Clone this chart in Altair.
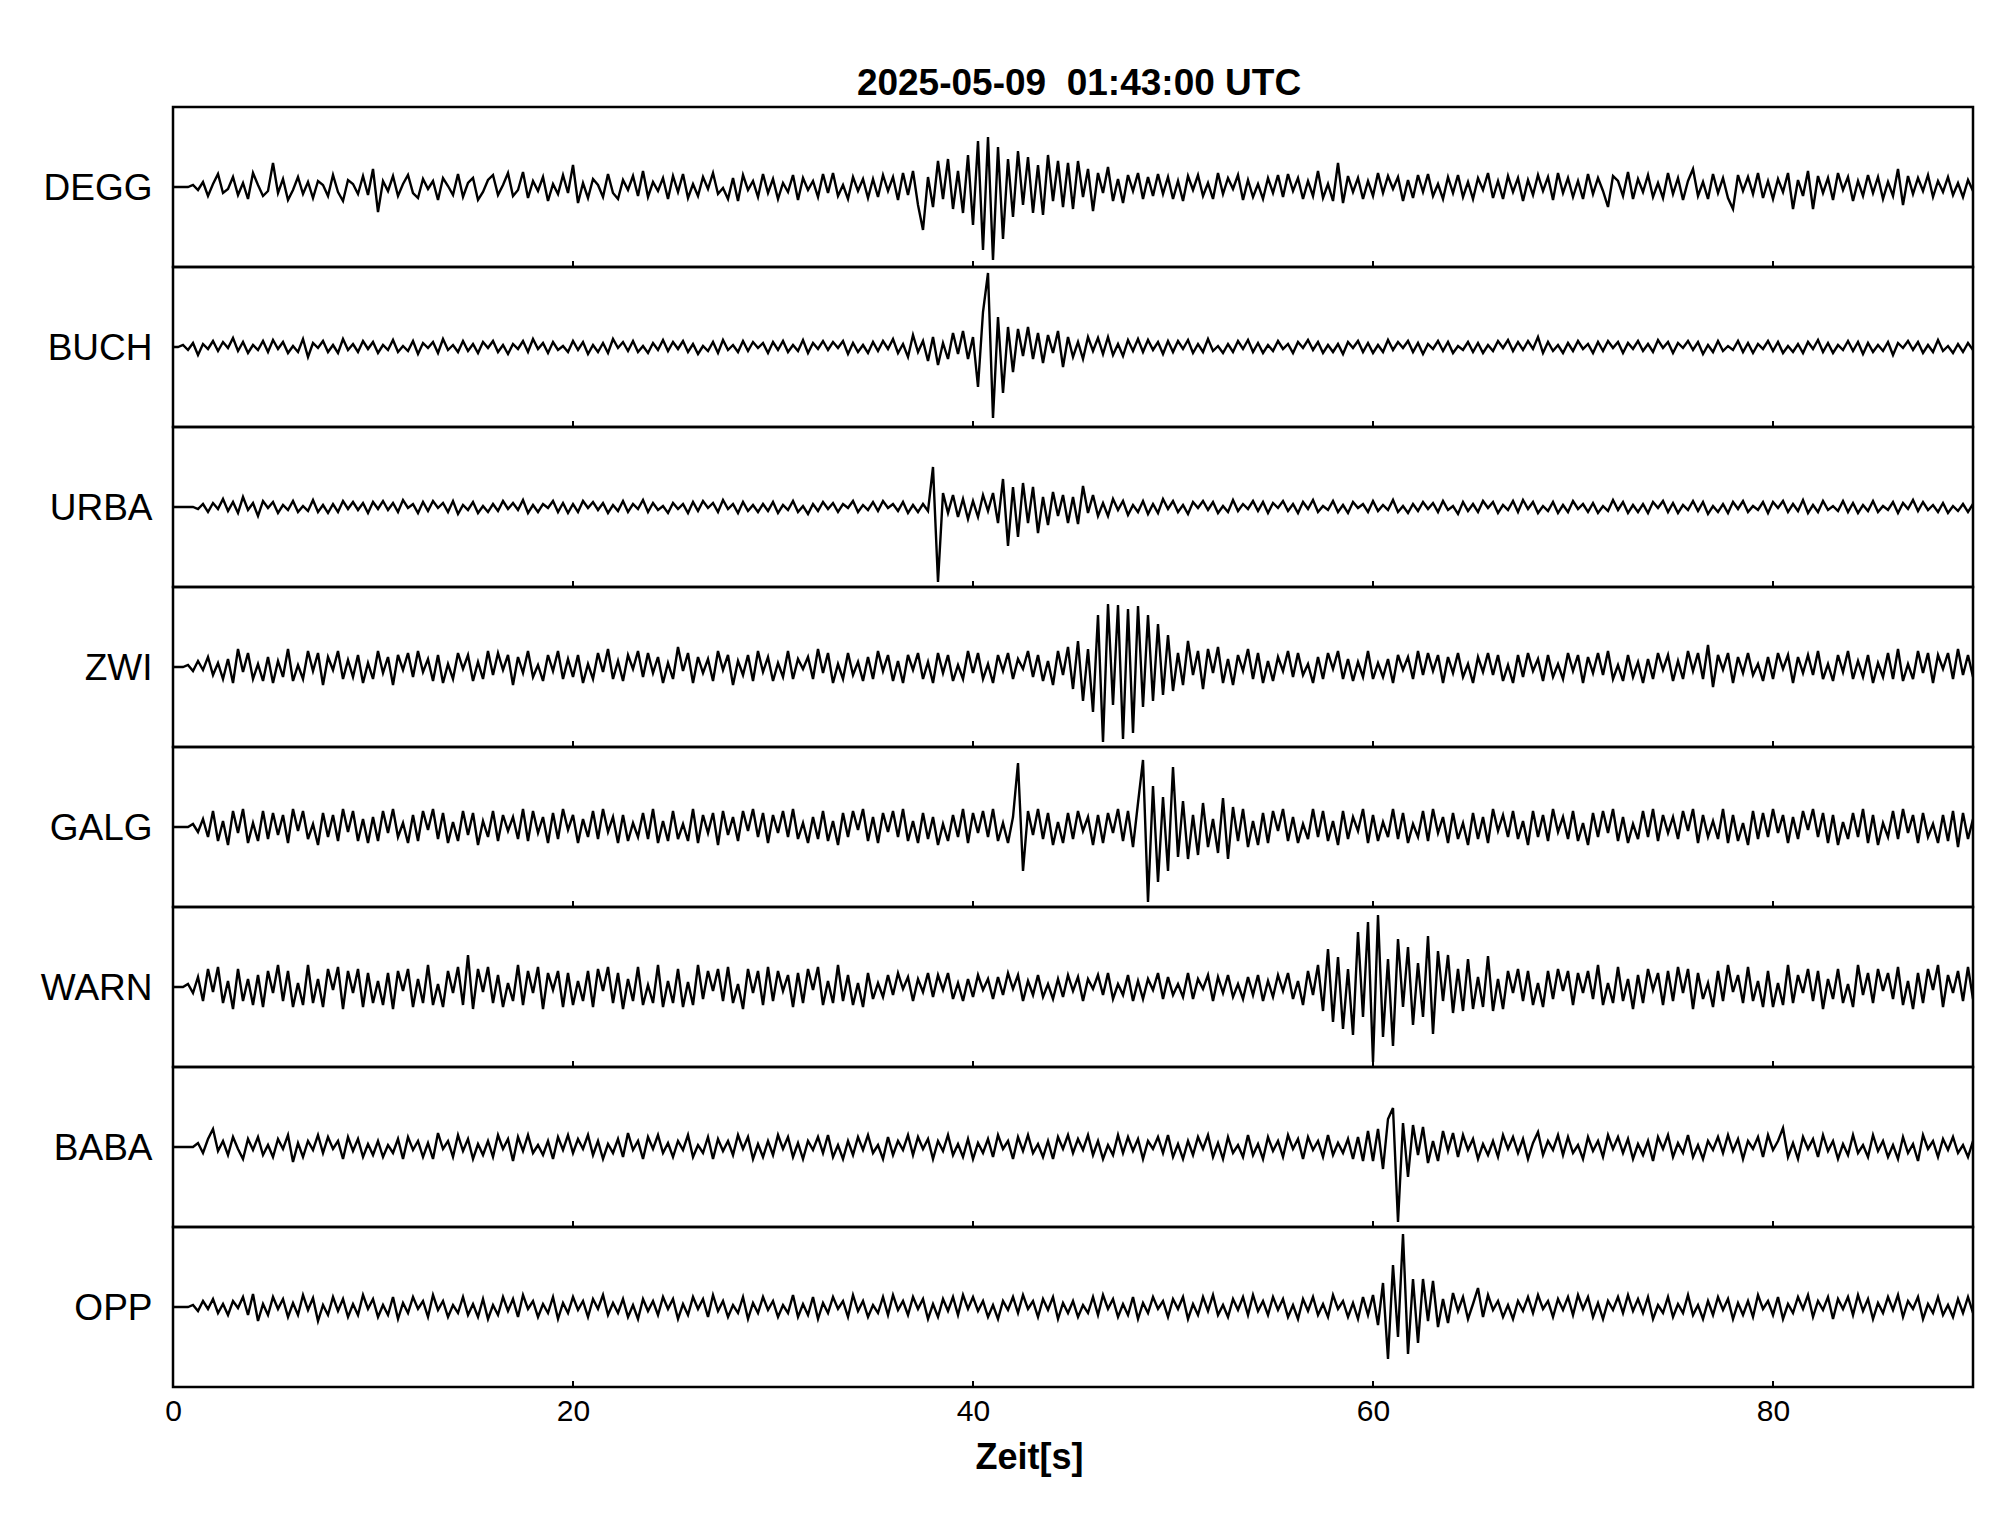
import altair as alt
import pandas as pd

TITLE = "2025-05-09\u00a0 01:43:00 UTC"
X_TITLE = "Zeit[s]"
STATIONS = ["DEGG", "BUCH", "URBA", "ZWI", "GALG", "WARN", "BABA", "OPP"]
X_LABELS = [0, 20, 40, 60, 80]
INNER_TICKS = [20, 40, 60, 80]
DT = 0.25  # seconds between samples

DEGG = [
    0, 0, 0, 0, 2, -3, 5, -9, 3, 13, -6, -2, 10, -8, 4, -12, 14, 2, -9, -4,
    24, -6, 8, -13, -3, 10, -7, 5, -11, 6, 2, -9, 12, -5, -14, 7, 3, -7, 11, -8,
    18, -25, 6, -4, 11, -9, 3, 12, -6, -11, 8, -2, 6, -13, 9, 1, -8, 13, -10, 4,
    9, -13, -5, 7, 12, -8, 2, 14, -9, -3, 15, -11, 6, -4, 10, -14, 3, -7, 12, -6,
    22, -16, 4, -11, 8, 2, -10, 13, -6, -12, 7, -3, 11, -9, 16, -10, 5, -4, 9, -12,
    11, -5, 13, -11, 3, -9, 10, -2, 14, -7, -1, -12, 9, -14, 12, -3, 6, -10, 13, -6,
    8, -12, 4, -5, 12, -13, 9, -3, 6, -10, 13, -6, 14, -9, 2, -12, 10, -4, 8, -11,
    8, -10, 12, -4, 10, -13, 14, -8, 16, -18, -43, 10, -20, 26, -12, 28, -22, 16, -26, 32,
    -38, 46, -63, 50, -73, 40, -52, 28, -30, 36, -18, 30, -26, 22, -28, 32, -14, 26, -20, 24,
    -22, 26, -10, 18, -24, 14, -6, 20, -14, 8, -16, 12, -4, 14, -12, 10, -9, 13, -7, 10,
    -12, 6, -14, 11, -3, 12, -9, 4, -12, 14, -7, 9, -2, 12, -13, 7, -10, 3, -12, 9,
    -6, 12, -10, 13, -4, 9, -12, 6, -9, 16, -11, 3, -14, 24, -16, 11, -5, 9, -12, 6,
    -9, 14, -6, 11, -2, 10, -14, 7, -11, 12, -5, 13, -9, 3, -12, 10, -6, 12, -10, 5,
    -12, 9, -3, 14, -11, 6, -12, 11, -5, 9, -14, 7, -8, 12, -4, 10, -13, 14, -6, 9,
    -10, 6, -12, 13, -7, 9, -4, -20, 11, 6, -9, 15, -12, 8, -5, 12, -10, 4, -11, 14,
    -7, 9, -13, 6, 18, -9, 5, -12, 13, -6, 9, -11, -22, 12, -4, 10, -7, 14, -11, 6,
    -12, 8, -5, 14, -22, 7, -9, 16, -22, 11, -6, 9, -13, 14, -3, 10, -14, 6, -9, 12,
    -6, 10, -12, 5, -9, 18, -18, 11, -7, 9, -4, 12, -10, 6, -5, 10, -8, 4, -10, 7,
    -4,
]

BUCH = [
    0, 0, 2, -3, 4, -8, 3, -2, 6, -4, 5, -1, 9, -4, 5, -6, 2, -3, 6, -5,
    7, -2, 5, -6, 1, -5, 8, -10, 4, -1, 6, -5, 2, -6, 8, -3, 3, -5, 6, -2,
    5, -6, 2, -3, 7, -5, 1, -4, 6, -7, 4, -1, 5, -6, 8, -3, 2, -5, 6, -4,
    3, -6, 5, -1, 6, -5, 2, -7, 3, -2, 6, -5, 8, -2, 4, -6, 5, -3, 1, -5,
    6, -3, 5, -7, 2, -5, 4, -6, 8, -1, 5, -4, 6, -5, 1, -6, 4, -3, 7, -4,
    5, -2, 6, -5, 3, -7, 1, -4, 5, -6, 7, -3, 2, -5, 6, -4, 5, -1, 4, -6,
    5, -3, 6, -5, 2, -4, 7, -6, 4, -2, 6, -3, 5, -1, 6, -7, 4, -5, 2, -6,
    5, -4, 6, -2, 8, -6, 3, -10, 12, -5, 6, -14, 10, -18, 4, -12, 14, -7, 16, -12,
    10, -40, 35, 74, -71, 30, -46, 20, -25, 18, -9, 20, -12, 14, -16, 12, -6, 16, -20, 10,
    -10, 5, -12, 10, -4, 9, -7, 10, -8, 3, -9, 7, -4, 8, -5, 7, -3, 5, -7, 6,
    -5, 6, -2, 7, -6, 3, -5, 8, -4, 1, -6, 3, -5, 6, -2, 7, -5, 4, -6, 2,
    -4, 6, -2, 3, -6, 5, -1, 7, -3, 5, -6, 2, -5, 3, -7, 5, -1, 6, -5, 4,
    -6, 2, -5, 7, -3, 5, -1, 6, -5, 4, -7, 3, -2, 6, -4, 5, -6, 1, -3, 5,
    -5, 4, -6, 2, -4, 6, -1, 7, -4, 5, -3, 6, -2, 10, -6, 5, -4, 2, -6, 4,
    -4, 6, -2, 3, -6, 5, -4, 6, -1, 5, -6, 4, -2, 6, -4, 3, -5, 7, -1, 5,
    -6, 4, -1, 6, -3, 5, -7, 2, -5, 6, -4, 1, -3, 6, -5, 4, -6, 3, -2, 6,
    -4, 5, -6, 1, -5, 3, -6, 5, -2, 7, -5, 4, -6, 2, -3, 6, -4, 5, -7, 4,
    -5, 2, -4, 5, -8, 4, -1, 6, -3, 5, -6, 2, -5, 7, -4, 1, -6, 3, -5, 4,
    -3,
]

URBA = [
    0, 0, 0, 0, 0, -2, 3, -5, 4, -2, 8, -4, 5, -6, 10, -3, 4, -9, 6, -1,
    5, -6, 2, -3, 6, -5, 1, -4, 7, -5, 2, -6, 3, -5, 6, -2, 5, -3, 4, -6,
    5, -2, 6, -3, 4, -5, 7, -1, 3, -6, 5, -4, 6, -1, 4, -5, 6, -7, 2, -3,
    5, -6, 1, -5, 3, -4, 6, -2, 4, -3, 7, -6, 2, -5, 3, -1, 6, -5, 4, -6,
    3, -5, 6, -1, 5, -3, 4, -6, 2, -4, 6, -5, 3, -2, 7, -5, 4, -3, 1, -6,
    4, -2, 3, -6, 5, -4, 6, -1, 4, -5, 7, -2, 3, -6, 5, -4, 2, -5, 3, -4,
    5, -6, 2, -3, 6, -5, 1, -7, 3, -4, 5, -2, 4, -5, 3, -1, 6, -5, 2, -3,
    5, -4, 6, -1, 3, -4, 5, -6, 2, -5, 3, -4, 40, -75, 14, -6, 12, -10, 8, -12,
    6, -10, 12, -4, 14, -16, 28, -39, 20, -30, 24, -16, 20, -26, 10, -18, 15, -9, 12, -16,
    10, -17, 21, -6, 12, -9, 4, -9, 8, -3, 6, -8, 2, -5, 6, -7, 3, -6, 8, -2,
    6, -5, 2, -7, 5, -1, 6, -3, 5, -6, 1, -5, 7, -4, 3, -2, 6, -4, 5, -6,
    4, -1, 6, -4, 3, -6, 5, -2, 7, -5, 1, -3, 6, -5, 2, -6, 5, -1, 3, -5,
    6, -4, 2, -3, 7, -5, 1, -6, 3, -4, 5, -2, 4, -5, 6, -3, 1, -7, 5, -4,
    3, -5, 6, -1, 5, -6, 2, -3, 6, -5, 7, -2, 5, -6, 1, -4, 5, -6, 2, -5,
    6, -2, 3, -5, 4, -6, 1, -4, 7, -3, 5, -6, 2, -5, 3, -6, 5, -1, 6, -5,
    4, -6, 2, -3, 6, -4, 5, -7, 1, -5, 3, -6, 5, -2, 6, -5, 1, -3, 5, -6,
    5, -1, 6, -5, 3, -4, 7, -6, 2, -5, 6, -3, 1, -4, 6, -5, 4, -6, 2, -4,
    6, -5, 1, -3, 5, -6, 4, -2, 7, -4, 5, -3, 2, -5, 4, -6, 1, -4, 3, -5,
    3,
]

ZWI = [
    0, 0, 0, 2, -4, 6, -3, 10, -8, 4, -12, 8, -16, 18, -5, 14, -12, 3, -14, 10,
    -16, 6, -10, 18, -14, 2, -12, 16, -4, 14, -18, 10, -3, 16, -12, 7, -10, 12, -16, 4,
    -12, 16, -6, 10, -18, 12, -3, 14, -10, 16, -5, 8, -14, 12, -16, 3, -12, 14, -2, 12,
    -14, 5, -12, 16, -8, 14, -3, 12, -18, 10, -6, 16, -10, 2, -14, 12, -4, 16, -12, 8,
    -10, 12, -16, 3, -12, 14, -5, 18, -12, 6, -14, 12, -2, 16, -10, 14, -6, 10, -16, 4,
    -12, 20, -4, 14, -16, 10, -6, 8, -14, 16, -3, 12, -18, 6, -8, 12, -14, 16, -5, 10,
    -14, 4, -10, 16, -12, 8, -2, 10, -12, 18, -6, 14, -16, 3, -12, 14, -8, 5, -14, 10,
    -12, 16, -4, 12, -14, 6, -16, 12, -3, 14, -12, 5, -16, 14, -6, 12, -14, 2, -12, 16,
    -6, 14, -12, 3, -16, 12, -4, 14, -12, 8, -2, 16, -10, 12, -14, 6, -18, 16, -8, 20,
    -22, 26, -34, 18, -45, 52, -75, 63, -38, 62, -72, 58, -66, 61, -40, 52, -34, 43, -28, 32,
    -24, 14, -18, 26, -8, 16, -22, 18, -6, 20, -16, 8, -18, 12, -4, 18, -12, 14, -16, 6,
    -14, 10, -4, 16, -10, 14, -8, 3, -16, 10, -12, 14, -2, 16, -12, 8, -14, 5, -10, 16,
    -12, 4, -10, 8, -16, 12, -3, 10, -12, 16, -8, 14, -4, 12, -16, 10, -6, 14, -10, 3,
    -16, 10, -5, 14, -8, 12, -14, 2, -16, 12, -10, 14, -4, 8, -14, 12, -10, 3, -12, 14,
    -4, 12, -16, 10, -6, 14, -8, 16, -12, 2, -14, 12, -10, 5, -16, 8, -12, 14, -3, 12,
    -14, 6, -12, 16, -4, 14, -12, 22, -20, 12, -3, 14, -16, 10, -6, 14, -8, 3, -14, 10,
    -12, 14, -2, 12, -16, 10, -6, 12, -8, 16, -12, 3, -14, 12, -5, 16, -12, 6, -10, 12,
    -16, 4, -10, 14, -12, 18, -14, 3, -12, 16, -6, 14, -16, 12, -2, 14, -12, 18, -8, 12,
    -10,
]

GALG = [
    0, 0, 0, 0, 3, -5, 8, -10, 16, -14, 6, -18, 16, -6, 18, -16, 4, -14, 16, -12,
    14, -8, 12, -16, 18, -4, 16, -12, 3, -18, 14, -10, 12, -14, 18, -5, 16, -14, 8, -16,
    10, -14, 16, -6, 18, -10, 4, -16, 12, -14, 16, -3, 18, -12, 14, -16, 5, -14, 16, -8,
    14, -18, 6, -10, 16, -14, 12, -4, 10, -12, 18, -14, 16, -6, 10, -16, 14, -12, 18, -3,
    12, -16, 8, -10, 16, -12, 18, -5, 10, -16, 12, -14, 4, -10, 14, -12, 18, -16, 6, -14,
    16, -12, 3, -14, 18, -16, 12, -6, 14, -18, 16, -8, 10, -14, 16, -4, 18, -10, 14, -16,
    12, -6, 16, -10, 18, -12, 4, -16, 10, -12, 16, -14, 6, -18, 14, -10, 16, -3, 18, -14,
    10, -16, 14, -5, 16, -10, 18, -14, 6, -16, 14, -12, 10, -18, 3, -14, 12, -10, 18, -16,
    14, -6, 16, -10, 18, -14, 4, -16, 10, 64, -44, 16, -8, 18, -12, 14, -18, 5, -16, 14,
    -12, 16, -4, 10, -18, 12, -16, 14, -6, 18, -14, 16, -20, 24, 67, -75, 41, -55, 30, -44,
    60, -30, 26, -32, 12, -28, 24, -20, 8, -26, 29, -32, 20, -14, 18, -20, 6, -18, 14, -16,
    16, -4, 18, -14, 10, -16, 3, -12, 18, -10, 16, -14, 6, -18, 16, -12, 10, -4, 18, -16,
    12, -14, 5, -10, 18, -12, 14, -16, 3, -10, 16, -14, 18, -6, 10, -16, 14, -12, 4, -18,
    14, -12, 10, -16, 18, -4, 12, -10, 16, -12, 6, -18, 16, -10, 12, -14, 18, -5, 10, -12,
    16, -14, 4, -18, 14, -10, 16, -6, 18, -14, 10, -16, 3, -12, 16, -10, 18, -14, 12, -6,
    10, -12, 16, -4, 18, -16, 12, -10, 6, -12, 18, -16, 12, -14, 4, -18, 16, -12, 14, -10,
    18, -6, 12, -16, 10, -12, 16, -3, 18, -10, 14, -16, 12, -18, 5, -12, 14, -10, 18, -16,
    12, -18, 4, -10, 16, -12, 18, -6, 12, -16, 14, -10, 3, -16, 12, -14, 16, -20, 14, -12,
    8,
]

WARN = [
    0, 0, 0, 3, -6, 10, -14, 18, -5, 20, -16, 6, -22, 18, -14, 8, -18, 12, -20, 16,
    -6, 22, -14, 16, -20, 4, -18, 22, -16, 8, -20, 18, -3, 20, -22, 16, -6, 18, -20, 14,
    -16, 6, -18, 14, -22, 16, -4, 18, -20, 8, -16, 22, -18, 3, -20, 16, -6, 20, -18, 32,
    -22, 18, -5, 20, -16, 12, -20, 4, -14, 22, -18, 16, -6, 20, -22, 14, -3, 16, -20, 14,
    -18, 6, -14, 16, -20, 18, -4, 20, -16, 14, -22, 8, -14, 20, -18, 2, -16, 22, -20, 6,
    -16, 18, -20, 5, -18, 22, -12, 16, -4, 18, -14, 20, -16, 3, -22, 18, -6, 16, -18, 20,
    -14, 16, -4, 12, -20, 14, -16, 18, -3, 20, -18, 6, -16, 22, -14, 12, -18, 4, -20, 14,
    -12, 4, -10, 12, -8, 14, -2, 10, -14, 8, -5, 14, -10, 12, -3, 14, -12, 4, -14, 8,
    -10, 12, -3, 8, -12, 10, -8, 14, -2, 12, -14, 6, -8, 12, -10, 3, -12, 8, -10, 12,
    -4, 10, -14, 8, -2, 12, -8, 14, -12, 3, -8, 12, -14, 6, -12, 8, -3, 14, -12, 10,
    -8, 3, -10, 14, -12, 8, -2, 12, -14, 10, -6, 12, -10, 3, -12, 10, -8, 12, -14, 6,
    -10, 12, -4, 14, -12, 6, -18, 16, -8, 22, -24, 38, -35, 30, -42, 18, -48, 55, -30, 65,
    -75, 72, -50, 28, -59, 48, -20, 40, -38, 24, -30, 51, -47, 36, -14, 32, -26, 18, -24, 28,
    -22, 10, -20, 31, -24, 8, -22, 16, -6, 18, -14, 16, -18, 4, -20, 16, -12, 18, -4, 16,
    -18, 14, -6, 16, -12, 22, -18, 4, -16, 20, -14, 8, -22, 12, -16, 18, -3, 14, -18, 16,
    -14, 20, -6, 18, -22, 14, -12, 4, -20, 16, -14, 22, -5, 12, -16, 20, -14, 6, -20, 16,
    -20, 4, -18, 22, -16, 12, -6, 18, -14, 16, -22, 8, -12, 18, -16, 3, -20, 22, -8, 14,
    -16, 18, -4, 14, -12, 20, -18, 6, -22, 14, -16, 18, -3, 22, -20, 12, -6, 16, -14, 20,
    -12,
]

BABA = [
    0, 0, 0, 0, 0, 4, -6, 8, 18, -4, 6, -8, 10, -2, -12, 8, -3, 10, -8, 2,
    -10, 8, -2, 12, -15, 4, -10, 6, -3, 12, -6, 10, -2, 6, -12, 10, -4, 8, -10, 3,
    -8, 6, -10, 2, -6, 8, -12, 10, -3, 6, -10, 4, -12, 14, -2, 6, -10, 12, -4, 8,
    -12, 3, -8, 6, -10, 12, -2, 8, -14, 10, -4, 12, -6, 2, -8, 6, -12, 10, -3, 12,
    -6, 8, -2, 12, -8, 6, -12, 3, -6, 8, -10, 14, -3, 6, -12, 10, -2, 12, -6, 4,
    -10, 6, -3, 12, -10, 2, -6, 10, -12, 8, -4, 6, -8, 12, -2, 10, -12, 3, -10, 6,
    -8, 12, -2, 10, -10, 4, -12, 6, -3, 10, -6, 12, -10, 2, -12, 6, -8, 10, -3, 12,
    -6, 2, -12, 10, -8, 6, -3, 12, -8, 10, -2, 8, -12, 6, -4, 12, -8, 3, -10, 8,
    -12, 4, -6, 8, -10, 12, -2, 6, -12, 10, -4, 12, -6, 3, -10, 6, -12, 10, -2, 12,
    -6, 8, -3, 12, -8, 6, -12, 2, -8, 12, -6, 10, -4, 8, -12, 6, -2, 10, -6, 12,
    -10, 3, -12, 6, -8, 10, -2, 12, -10, 4, -12, 10, -6, 2, -10, 12, -8, 3, -12, 10,
    -4, 6, -10, 12, -2, 8, -12, 10, -3, 6, -10, 12, -8, 4, -6, 8, -12, 10, -14, 16,
    -14, 18, -22, 28, 39, -75, 24, -30, 22, -8, 20, -16, 6, -14, 16, -4, 14, -10, 12, -3,
    8, -12, 3, -8, 6, -10, 12, -2, 10, -6, 8, -12, 4, 15, -8, 6, -3, 12, -8, 10,
    -6, 2, -12, 10, -4, 6, -10, 12, -2, 10, -6, 8, -12, 3, -8, 6, -14, 10, -2, 12,
    -10, 4, -6, 12, -10, 2, -12, 6, -3, 10, -6, 12, -4, 8, -12, 6, -2, 10, -10, 12,
    -3, 6, 19, -10, 4, -12, 10, -2, 8, -10, 12, -4, 6, -12, 3, -8, 12, -6, 2, -10,
    12, -4, 6, -10, 2, -12, 10, -6, 3, -14, 12, -2, 6, -10, 8, -3, 10, -6, 2, -10,
    6,
]

OPP = [
    0, 0, 0, 0, 2, -4, 6, -2, 8, -6, 3, -8, 6, -1, 10, -8, 13, -14, 3, -8,
    10, -2, 8, -10, 4, -8, 12, -3, 9, -14, 2, -8, 10, -4, 8, -10, 3, -8, 12, -2,
    8, -10, 2, -8, 10, -12, 4, -6, 10, -2, 6, -10, 12, -3, 6, -10, 2, -6, 10, -8,
    3, -10, 8, -12, 2, -8, 10, -4, 8, -10, 12, -2, 6, -10, 3, -6, 10, -12, 4, -6,
    10, -3, 6, -10, 8, -2, 12, -8, 4, -6, 8, -10, 2, -12, 8, -4, 6, -8, 10, -2,
    8, -12, 3, -8, 10, -2, 8, -10, 12, -4, 6, -10, 2, -6, 10, -12, 4, -6, 10, -3,
    6, -10, 2, -6, 12, -10, 3, -8, 10, -12, 4, -6, 10, -2, 6, -10, 12, -4, 6, -10,
    2, -6, 10, -8, 12, -3, 6, -8, 10, -2, 8, -12, 3, -10, 8, -4, 10, -8, 12, -2,
    10, -4, 6, -10, 2, -12, 6, -3, 10, -6, 12, -2, 6, -10, 8, -3, 10, -12, 4, -6,
    6, -10, 2, -6, 10, -8, 12, -2, 8, -10, 3, -8, 10, -12, 4, -6, 10, -2, 6, -10,
    8, -2, 10, -12, 3, -8, 10, -4, 12, -8, 2, -10, 8, -3, 10, -8, 12, -4, 6, -8,
    10, -3, 8, -10, 2, -12, 8, -4, 10, -8, 3, -10, 12, -2, 6, -10, 4, -12, 10, -8,
    12, -18, 24, -52, 42, -30, 73, -47, 28, -36, 28, -14, 26, -20, 8, -16, 14, -4, 10, -12,
    3, 19, -10, 12, -3, 6, -10, 2, -12, 6, -4, 10, -6, 12, -2, 6, -10, 8, -3, 10,
    -8, 12, -2, 10, -10, 4, -12, 6, -3, 10, -6, 12, -4, 8, -6, 10, -12, 2, -6, 10,
    -10, 3, -6, 12, -8, 2, -12, 6, -8, 10, -3, 8, -12, 4, -8, 6, -10, 12, -2, 6,
    -8, 10, -12, 3, -6, 10, -2, 12, -10, 6, -3, 10, -12, 8, -2, 10, -8, 12, -4, 8,
    -12, 4, -6, 10, -3, 12, -10, 6, -2, 10, -12, 3, -6, 10, -8, 2, -10, 8, -6, 10,
    -6,
]

TRACES = [DEGG, BUCH, URBA, ZWI, GALG, WARN, BABA, OPP]

FONT = "Liberation Sans"
PANEL_W = 1800
PANEL_H = 160

x_scale = alt.Scale(domain=[0, 90], nice=False, zero=False)
y_scale = alt.Scale(domain=[-80, 80], nice=False, zero=False)

panels = []
for k, (name, vals) in enumerate(zip(STATIONS, TRACES)):
    df = pd.DataFrame({"t": [i * DT for i in range(len(vals))], "a": vals})
    last = k == len(STATIONS) - 1
    if last:
        x_enc = alt.X(
            "t:Q", scale=x_scale,
            axis=alt.Axis(
                values=X_LABELS, format="d", ticks=False, domain=False, grid=False,
                labelFont=FONT, labelFontSize=30, labelColor="black", labelPadding=9,
                labelFlush=False, title=X_TITLE, titleFont=FONT, titleFontSize=36,
                titleFontWeight="bold", titleColor="black", titleX=856, titleY=81,
                titleAlign="center", titleBaseline="alphabetic",
            ),
        )
    else:
        x_enc = alt.X("t:Q", scale=x_scale, axis=None)

    y_enc = alt.Y(
        "a:Q", scale=y_scale,
        axis=alt.Axis(
            title=name, titleAngle=0, titleAlign="right", titleBaseline="middle",
            titleX=-21, titleY=PANEL_H / 2 + 1, titleFont=FONT, titleFontSize=37,
            titleFontWeight="normal", titleColor="black",
            labels=False, ticks=False, domain=False, grid=False,
        ),
    )

    line = alt.Chart(df).mark_line(color="black", strokeWidth=2.4, clip=True).encode(
        x=x_enc, y=y_enc
    )
    ticks = alt.Chart(pd.DataFrame({"t": INNER_TICKS})).mark_rule(
        color="black", strokeWidth=2
    ).encode(
        x=x_enc,
        y=alt.value(PANEL_H),
        y2=alt.value(PANEL_H - 6),
    )
    panel = alt.layer(line, ticks).properties(width=PANEL_W, height=PANEL_H)
    if k == 0:
        panel = panel.properties(
            title=alt.TitleParams(
                text=TITLE, font=FONT, fontSize=37, fontWeight="bold", color="black",
                anchor="middle", frame="group", baseline="alphabetic", offset=-25, dx=6,
            )
        )
    panels.append(panel)

chart = (
    alt.vconcat(*panels, spacing=0, bounds="flush")
    .properties(padding={"left": 31, "top": 55, "right": 20, "bottom": 20}, background="white")
    .configure_view(stroke="black", strokeWidth=2.5)
)

chart.save("out.html", embed_options={"renderer": "svg", "actions": False})
